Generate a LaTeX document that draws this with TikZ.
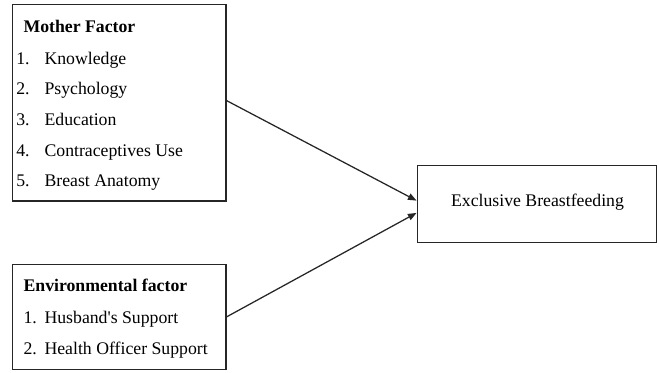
\documentclass[tikz,border=0pt]{standalone}
\usepackage{fontspec}
\setmainfont{Liberation Serif}
\usetikzlibrary{fit,calc,arrows.meta}
\newcommand{\straightq}{\XeTeXglyph\XeTeXglyphindex "quotesingle"\relax}
\tikzset{
  box/.style={draw=black!85, line width=1.1pt, inner sep=0pt},
  txt/.style={anchor=base west, inner sep=0pt, font=\fontsize{13.3pt}{15pt}\selectfont},
  arr/.style={draw=black!85, line width=0.95pt, -{Triangle[length=6.5pt,width=5pt]}}
}
\begin{document}
\begin{tikzpicture}[x=0.75pt,y=-0.75pt]
\useasboundingbox (0,0) rectangle (659,372);
% boxes
\node[box, fit={(12.7,4.7)(226,201)}] (mother) {};
\node[box, fit={(12.7,264.3)(226,369.3)}] (env) {};
\node[box, fit={(417.3,165.7)(656.7,242.3)}] (result) {};
% mother texts
\node[txt, font=\fontsize{13.3pt}{15pt}\selectfont\bfseries] (mt) at (23.3,32.2) {Mother Factor};
\node[txt] (m1n) at (16,64) {1.};
\node[txt] (m1) at (44.3,64) {Knowledge};
\node[txt] (m2n) at (16,94.5) {2.};
\node[txt] (m2) at (44.3,94.5) {Psychology};
\node[txt] (m3n) at (16,125) {3.};
\node[txt] (m3) at (44.3,125) {Education};
\node[txt] (m4n) at (16,156) {4.};
\node[txt] (m4) at (44.3,156) {Contraceptives Use};
\node[txt] (m5n) at (16,186.5) {5.};
\node[txt] (m5) at (44.3,186.5) {Breast Anatomy};
% env texts
\node[txt, font=\fontsize{13.3pt}{15pt}\selectfont\bfseries] (et) at (23.3,291.5) {Environmental factor};
\node[txt] (e1n) at (23.3,323) {1.};
\node[txt] (e1) at (44.3,323) {Husband\straightq s Support};
\node[txt] (e2n) at (23.3,354) {2.};
\node[txt] (e2) at (44.3,354) {Health Officer Support};
% result text
\node[anchor=base, inner sep=0pt, font=\fontsize{13.3pt}{15pt}\selectfont] (rt) at (537.5,206) {Exclusive Breastfeeding};
% connectors
\coordinate (ms) at ($(mother.north east)!0.489!(mother.south east)$);
\coordinate (es) at (env.east);
\coordinate (r1) at ($(result.north west)!0.457!(result.south west)$);
\coordinate (r2) at ($(result.north west)!0.614!(result.south west)$);
\draw[arr] (ms) -- (r1);
\draw[arr] (es) -- (r2);
\end{tikzpicture}
\end{document}
